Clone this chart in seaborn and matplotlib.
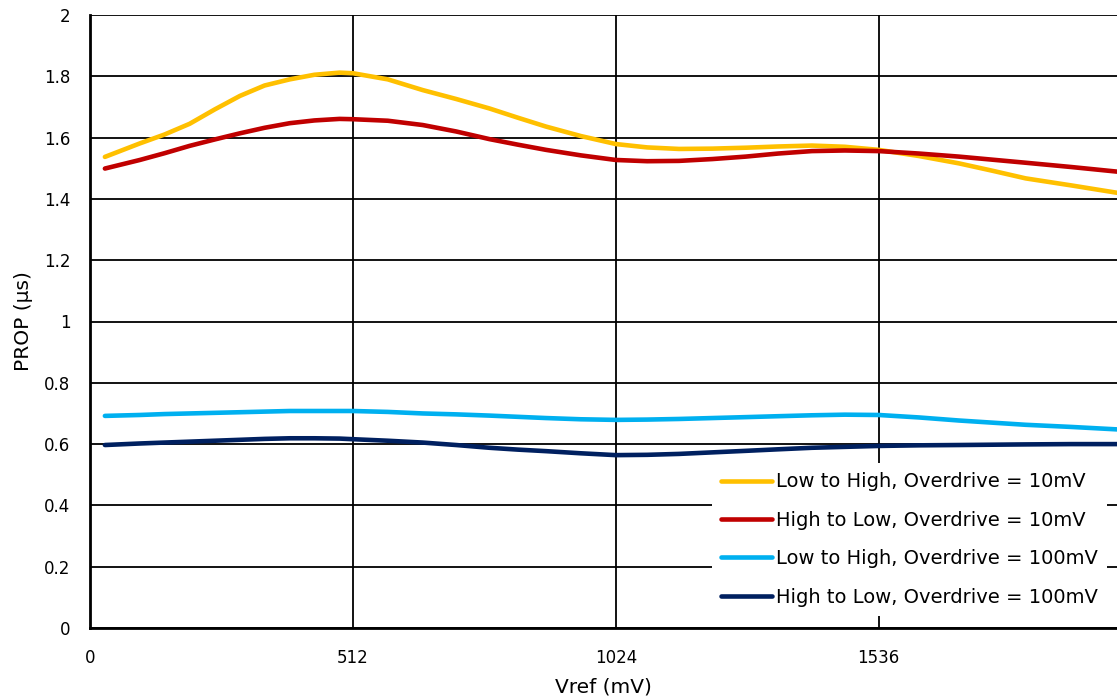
import matplotlib
matplotlib.use("Agg")
import matplotlib.pyplot as plt
import seaborn as sns
import pandas as pd

# Vref sample positions (mV)
vref = [29, 97, 145, 194, 243, 292, 340, 389, 437, 486, 512, 580, 648, 713,
        778, 833, 888, 956, 1024, 1085, 1147, 1212, 1277, 1340, 1406, 1470,
        1536, 1614, 1692, 1757, 1822, 1911, 2000]

# propagation delay (us) per series
lh_10mv = [1.537, 1.581, 1.610, 1.645, 1.692, 1.736, 1.770, 1.790, 1.805,
           1.812, 1.810, 1.790, 1.755, 1.726, 1.695, 1.665, 1.636, 1.605,
           1.579, 1.568, 1.563, 1.564, 1.567, 1.571, 1.574, 1.570, 1.560,
           1.540, 1.516, 1.492, 1.467, 1.444, 1.420]
hl_10mv = [1.499, 1.527, 1.549, 1.573, 1.594, 1.614, 1.632, 1.647, 1.656,
           1.661, 1.660, 1.655, 1.641, 1.620, 1.595, 1.577, 1.560, 1.542,
           1.527, 1.523, 1.524, 1.530, 1.538, 1.548, 1.556, 1.558, 1.556,
           1.548, 1.538, 1.528, 1.518, 1.504, 1.489]
lh_100mv = [0.692, 0.695, 0.698, 0.700, 0.702, 0.704, 0.706, 0.708, 0.708,
            0.708, 0.708, 0.705, 0.700, 0.697, 0.693, 0.689, 0.685, 0.681,
            0.679, 0.680, 0.682, 0.685, 0.688, 0.691, 0.694, 0.696, 0.695,
            0.687, 0.677, 0.670, 0.663, 0.656, 0.648]
hl_100mv = [0.597, 0.602, 0.605, 0.608, 0.611, 0.614, 0.617, 0.619, 0.619,
            0.618, 0.616, 0.611, 0.605, 0.597, 0.588, 0.582, 0.577, 0.570,
            0.564, 0.565, 0.568, 0.573, 0.578, 0.583, 0.588, 0.591, 0.594,
            0.596, 0.597, 0.598, 0.599, 0.600, 0.600]

series_names = ["Low to High, Overdrive = 10mV",
                "High to Low, Overdrive = 10mV",
                "Low to High, Overdrive = 100mV",
                "High to Low, Overdrive = 100mV"]
series_colors = ["#FFC000", "#C00000", "#00B0F0", "#002060"]
x_ticks = [0, 512, 1024, 1536]
y_ticks = [0, 0.2, 0.4, 0.6, 0.8, 1, 1.2, 1.4, 1.6, 1.8, 2]
y_tick_labels = ["0", "0.2", "0.4", "0.6", "0.8", "1", "1.2", "1.4", "1.6", "1.8", "2"]

frames = []
for name, vals in zip(series_names, [lh_10mv, hl_10mv, lh_100mv, hl_100mv]):
    frames.append(pd.DataFrame({"Vref": vref, "PROP": vals, "series": name}))
df = pd.concat(frames, ignore_index=True)

sns.set_style("white")
plt.rcParams["font.family"] = ["DejaVu Sans"]
plt.rcParams["text.color"] = "black"
plt.rcParams["axes.labelcolor"] = "black"
plt.rcParams["xtick.color"] = "black"
plt.rcParams["ytick.color"] = "black"

fig = plt.figure(figsize=(11.17, 7.0), dpi=100)
ax = fig.add_axes([90 / 1117, 72 / 700, 1 - 90 / 1117, 613 / 700])

sns.lineplot(data=df, x="Vref", y="PROP", hue="series", hue_order=series_names,
             palette=series_colors, linewidth=3.3, ax=ax, legend=True,
             solid_capstyle="round")

ax.set_xlim(0, 2000)
ax.set_ylim(0, 2)
ax.set_xticks(x_ticks)
ax.set_xticklabels([str(t) for t in x_ticks], fontsize=12)
ax.set_yticks(y_ticks)
ax.set_yticklabels(y_tick_labels, fontsize=12)
ax.tick_params(axis="x", length=0, pad=15)
ax.tick_params(axis="y", length=0, pad=14)

ax.grid(True, color="black", linewidth=1.3)
ax.set_axisbelow(True)
ax.spines["right"].set_visible(False)
ax.spines["top"].set_visible(False)
for side in ["left", "bottom"]:
    ax.spines[side].set_color("black")
    ax.spines[side].set_linewidth(2)

ax.set_xlabel("Vref (mV)", fontsize=14.5, labelpad=8)
ax.set_ylabel("PROP (µs)", fontsize=14.5, labelpad=8)

leg = ax.legend(loc="lower right", bbox_to_anchor=(1.0, 0.003), fontsize=14,
                frameon=True, facecolor="white", edgecolor="none", framealpha=1,
                handlelength=2.6, handletextpad=0.2, labelspacing=1.0,
                borderpad=0.5, fancybox=False)
for line in leg.get_lines():
    line.set_linewidth(3.3)

fig.savefig("out.png", dpi=100)
plt.close(fig)
